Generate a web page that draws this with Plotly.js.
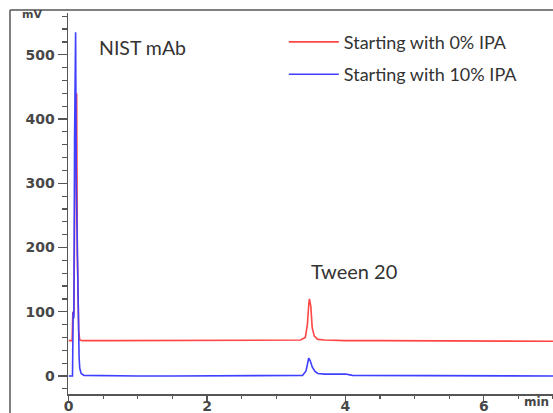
<!DOCTYPE html>
<html>
<head>
<meta charset="utf-8">
<script src="https://cdn.plot.ly/plotly-3.0.1.min.js"></script>
<style>html,body{margin:0;padding:0;background:#fff;}#chart{width:553px;height:413px;}</style>
</head>
<body>
<div id="chart"></div>
<script>
// Retention time (min) and signal (mV)
const redTime = [0, 0.05, 0.06, 0.075, 0.09, 0.105, 0.115, 0.125, 0.135, 0.145, 0.16, 0.2, 0.6, 1.0, 1.5, 2.0, 2.5, 3.0, 3.35, 3.42, 3.45, 3.47, 3.48, 3.5, 3.52, 3.55, 3.6, 3.7, 4.0, 4.5, 5.0, 5.57, 6.0, 6.5, 7.1];
const redSignal = [55, 55, 100, 95, 300, 380, 440, 190, 100, 70, 56, 55, 55, 55, 55, 55, 55, 55, 56, 60, 80, 112, 120, 108, 75, 62, 57, 56, 55, 55, 55, 55, 54, 54, 54];

const blueTime = [0, 0.055, 0.065, 0.075, 0.085, 0.1, 0.11, 0.12, 0.13, 0.14, 0.15, 0.16, 0.18, 0.22, 0.6, 1.0, 1.5, 2.0, 2.5, 3.0, 3.38, 3.43, 3.46, 3.47, 3.49, 3.52, 3.56, 3.6, 3.7, 4.0, 4.1, 4.5, 5.0, 5.5, 6.0, 6.5, 7.1];
const blueSignal = [0, 0, 100, 90, 370, 535, 300, 230, 95, 75, 30, 12, 4, 1, 0, 0, 0, 0, 0, 0, 1, 8, 22, 28, 24, 14, 7, 4, 3, 3, 1, 1, 1, 1, 1, 0, 0];

const seriesNames = ['Starting with 0% IPA', 'Starting with 10% IPA'];
const yTickVals = [0, 100, 200, 300, 400, 500];
const xTickVals = [0, 2, 4, 6];

const traces = [
  {x: redTime, y: redSignal, type: 'scatter', mode: 'lines', name: seriesNames[0], legendgroup: 'a',
   line: {color: '#ff4545', width: 1.6}},
  {x: blueTime, y: blueSignal, type: 'scatter', mode: 'lines', name: seriesNames[1], legendgroup: 'b',
   line: {color: '#3f3fff', width: 1.6}}
];

const tickFont = {family: 'DejaVu Sans, sans-serif', size: 14, color: '#474747', weight: 'bold'};
const textFont = {family: 'Lato, Open Sans, sans-serif', color: '#333'};

const layout = {
  width: 553, height: 413,
  margin: {l: 68, r: 0, t: 13, b: 19},
  paper_bgcolor: '#fff', plot_bgcolor: '#fff',
  showlegend: true,
  legend: {x: 0.445, y: 0.972, xanchor: 'left', yanchor: 'top', bgcolor: 'rgba(0,0,0,0)',
           font: Object.assign({size: 18}, textFont), tracegroupgap: 6, itemwidth: 50},
  xaxis: {range: [-0.01, 7.0], tickvals: xTickVals, ticktext: xTickVals.map(String),
          showgrid: false, zeroline: false, showline: true, linecolor: '#555', linewidth: 1.5,
          ticks: 'outside', ticklen: 6, tickwidth: 1.2, tickcolor: '#555', tickfont: tickFont,
          ticklabelstandoff: -7,
          minor: {dtick: 0.5, ticks: 'outside', ticklen: 3, tickcolor: '#555', showgrid: false}},
  yaxis: {range: [-28, 565], tickvals: yTickVals, ticktext: yTickVals.map(String),
          showgrid: false, zeroline: false, showline: true, linecolor: '#555', linewidth: 1.5,
          ticks: 'outside', ticklen: 9, tickwidth: 1.2, tickcolor: '#555', tickfont: tickFont,
          minor: {dtick: 20, tick0: 0, ticks: 'outside', ticklen: 5, tickcolor: '#555', showgrid: false}},
  annotations: [
    {text: 'mV', xref: 'paper', yref: 'paper', x: -0.075, y: 0.995, xanchor: 'center', yanchor: 'middle',
     showarrow: false, font: {family: 'DejaVu Sans, sans-serif', size: 11, color: '#474747', weight: 'bold'}},
    {text: 'min', xref: 'paper', yref: 'paper', x: 0.995, y: -0.045, xanchor: 'right', yanchor: 'bottom',
     showarrow: false, font: {family: 'DejaVu Sans, sans-serif', size: 12, color: '#474747', weight: 'bold'}},
    {text: 'NIST mAb', xref: 'x', yref: 'y', x: 0.41, y: 512, xanchor: 'left', yanchor: 'middle',
     showarrow: false, font: Object.assign({size: 19.5}, textFont)},
    {text: 'Tween 20', xref: 'x', yref: 'y', x: 3.47, y: 163, xanchor: 'left', yanchor: 'middle',
     showarrow: false, font: Object.assign({size: 20}, textFont)}
  ],
  shapes: [
    {type: 'line', xref: 'paper', yref: 'paper', x0: -0.1196, x1: -0.1196, y0: 1.008, y1: -0.06,
     line: {color: '#555', width: 1.5}},
    {type: 'line', xref: 'paper', yref: 'paper', x0: -0.1196, x1: 1.0, y0: 1.008, y1: 1.008,
     line: {color: '#555', width: 1.5}}
  ]
};

Plotly.newPlot('chart', traces, layout, {displayModeBar: false, staticPlot: true});
</script>
</body>
</html>
